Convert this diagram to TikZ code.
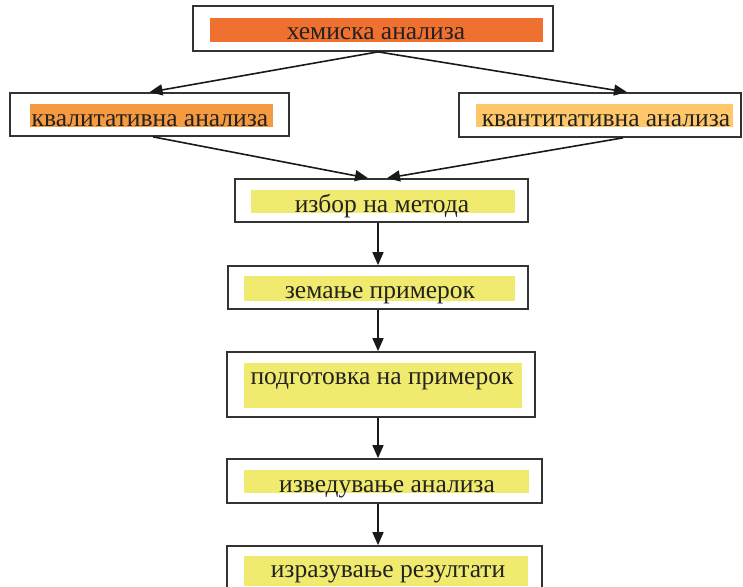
\documentclass[tikz,border=0pt]{standalone}
\usepackage{fontspec}
\setmainfont{Liberation Serif}
\usetikzlibrary{arrows.meta,calc}
\definecolor{orA}{HTML}{F07030}
\definecolor{orB}{HTML}{F59A40}
\definecolor{orC}{HTML}{FFC76A}
\definecolor{yel}{HTML}{F0EA6E}
\definecolor{edge}{HTML}{333333}
\definecolor{txt}{HTML}{222222}
\tikzset{
  box/.style={draw=edge, line width=1.7pt, fill=white, inner sep=0pt, rectangle},
  band/.style={inner sep=0pt, rectangle, draw=none},
  lbl/.style={anchor=base, inner sep=0pt, text=txt, font=\fontsize{25.5}{30}\selectfont},
  conn/.style={draw=black!90, line width=1.6pt, -{Triangle[length=13pt,width=11pt]}}
}
\begin{document}
\begin{tikzpicture}[x=1pt,y=-1pt]
\useasboundingbox (0,0) rectangle (743,586);
% boxes
\node[box, minimum width=360pt, minimum height=45pt] (b1) at (373,28.5) {};
\node[box, minimum width=279pt, minimum height=43pt] (b2) at (149.5,114.5) {};
\node[box, minimum width=282pt, minimum height=44pt] (b3) at (600,115) {};
\node[box, minimum width=293pt, minimum height=43pt] (b4) at (381.5,200.5) {};
\node[box, minimum width=300pt, minimum height=43pt] (b5) at (378,287.5) {};
\node[box, minimum width=308pt, minimum height=65pt] (b6) at (381,384.5) {};
\node[box, minimum width=315pt, minimum height=44pt] (b7) at (384.5,481) {};
\node[box, minimum width=315pt, minimum height=44pt] (b8) at (384.5,568) {};
% colour bands
\node[band, fill=orA, minimum width=333pt, minimum height=24pt] (f1) at (376.5,30) {};
\node[band, fill=orB, minimum width=243pt, minimum height=23pt] (f2) at (151.5,115.5) {};
\node[band, fill=orC, minimum width=257pt, minimum height=23pt] (f3) at (604.5,115.5) {};
\node[band, fill=yel, minimum width=264pt, minimum height=23pt] (f4) at (383,201.5) {};
\node[band, fill=yel, minimum width=271pt, minimum height=25pt] (f5) at (379.5,288.5) {};
\node[band, fill=yel, minimum width=278pt, minimum height=45pt] (f6) at (383,385.5) {};
\node[band, fill=yel, minimum width=285pt, minimum height=23pt] (f7) at (386.5,481.5) {};
\node[band, fill=yel, minimum width=284pt, minimum height=30pt] (f8) at (386,571) {};
% texts
\node[lbl] (t1) at (376,40) {хемиска анализа};
\node[lbl] (t2) at (150,126) {квалитативна анализа};
\node[lbl] (t3) at (606,126) {квантитативна анализа};
\node[lbl] (t4) at (382,212) {избор на метода};
\node[lbl] (t5) at (380,298) {земање примерок};
\node[lbl] (t6) at (382,384) {подготовка на примерок};
\node[lbl] (t7) at (387,492) {изведување анализа};
\node[lbl] (t8) at (388,577) {изразување резултати};
% connectors
\draw[conn] ([xshift=5pt]b1.south) -- (b2.north);
\draw[conn] ([xshift=5pt]b1.south) -- ([xshift=27pt]b3.north);
\draw[conn] ([xshift=3.5pt]b2.south) -- ([xshift=-13.5pt]b4.north);
\draw[conn] ([xshift=23pt]b3.south) -- ([xshift=5.5pt]b4.north);
\draw[conn] (b4.south -| b5.north) -- (b5.north);
\draw[conn] (b5.south) -- (b5.south |- b6.north);
\draw[conn] (b6.south -| b5.south) -- (b5.south |- b7.north);
\draw[conn] (b7.south -| b5.south) -- (b5.south |- b8.north);
\end{tikzpicture}
\end{document}
